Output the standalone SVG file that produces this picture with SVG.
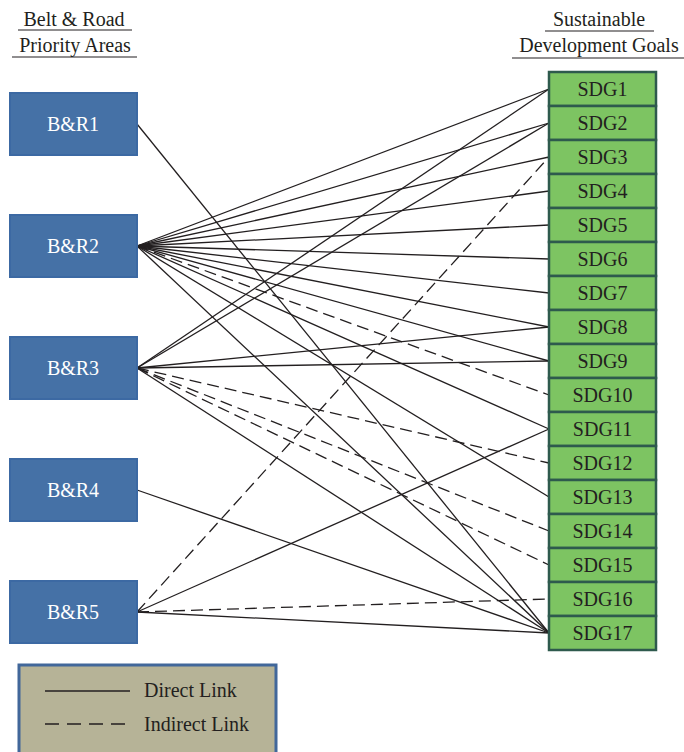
<svg xmlns="http://www.w3.org/2000/svg" width="684" height="752" viewBox="0 0 684 752">
<style>
text{font-family:"Liberation Serif","Times New Roman",serif;font-size:20px;fill:#231f20}
.br rect{fill:#4571a6;stroke:#3c69a3;stroke-width:2}
.br text{fill:#ffffff;text-anchor:middle}
.sdg rect{fill:#7dc462;stroke:#2e5a4d;stroke-width:2.5}
.sdg text{text-anchor:middle}
.hd{text-anchor:middle}
.ul{stroke:#231f20;stroke-width:1.2}
#connectors line{stroke:#231f20;stroke-width:1.3;fill:none}
#connectors line.ind{stroke-dasharray:12 6}
</style>
<rect width="684" height="752" fill="#ffffff"/>
<g id="header-left">
<text class="hd" x="74" y="26">Belt &amp; Road</text>
<line class="ul" x1="18" y1="30" x2="132" y2="30"/>
<text class="hd" x="75" y="52">Priority Areas</text>
<line class="ul" x1="12" y1="57" x2="137" y2="57"/>
</g>
<g id="header-right">
<text class="hd" x="599" y="26">Sustainable</text>
<line class="ul" x1="545" y1="31" x2="654" y2="31"/>
<text class="hd" x="599" y="52">Development Goals</text>
<line class="ul" x1="512" y1="58" x2="684" y2="58"/>
</g>
<g id="connectors">
<line x1="137" y1="124" x2="549" y2="633"/>
<line x1="137" y1="246" x2="549" y2="89"/>
<line x1="137" y1="246" x2="549" y2="123"/>
<line x1="137" y1="246" x2="549" y2="157"/>
<line x1="137" y1="246" x2="549" y2="191"/>
<line x1="137" y1="246" x2="549" y2="225"/>
<line x1="137" y1="246" x2="549" y2="259"/>
<line x1="137" y1="246" x2="549" y2="293"/>
<line x1="137" y1="246" x2="549" y2="327"/>
<line x1="137" y1="246" x2="549" y2="361"/>
<line class="ind" x1="137" y1="246" x2="549" y2="395"/>
<line x1="137" y1="246" x2="549" y2="429"/>
<line x1="137" y1="246" x2="549" y2="497"/>
<line x1="137" y1="246" x2="549" y2="633"/>
<line x1="137" y1="368" x2="549" y2="89"/>
<line x1="137" y1="368" x2="549" y2="123"/>
<line x1="137" y1="368" x2="549" y2="327"/>
<line x1="137" y1="368" x2="549" y2="361"/>
<line class="ind" x1="137" y1="368" x2="549" y2="463"/>
<line class="ind" x1="137" y1="368" x2="549" y2="531"/>
<line class="ind" x1="137" y1="368" x2="549" y2="565"/>
<line x1="137" y1="368" x2="549" y2="633"/>
<line x1="137" y1="490" x2="549" y2="633"/>
<line class="ind" x1="137" y1="612" x2="549" y2="157"/>
<line x1="137" y1="612" x2="549" y2="429"/>
<line class="ind" x1="137" y1="612" x2="549" y2="599"/>
<line x1="137" y1="612" x2="549" y2="633"/>
</g>
<g id="br1" class="br"><rect x="10" y="93" width="127" height="62"/><text x="73" y="131">B&amp;R1</text></g>
<g id="br2" class="br"><rect x="10" y="215" width="127" height="62"/><text x="73" y="253">B&amp;R2</text></g>
<g id="br3" class="br"><rect x="10" y="337" width="127" height="62"/><text x="73" y="375">B&amp;R3</text></g>
<g id="br4" class="br"><rect x="10" y="459" width="127" height="62"/><text x="73" y="497">B&amp;R4</text></g>
<g id="br5" class="br"><rect x="10" y="581" width="127" height="62"/><text x="73" y="619">B&amp;R5</text></g>
<g id="sdg1" class="sdg"><rect x="549" y="72" width="107" height="34"/><text x="602.5" y="96">SDG1</text></g>
<g id="sdg2" class="sdg"><rect x="549" y="106" width="107" height="34"/><text x="602.5" y="130">SDG2</text></g>
<g id="sdg3" class="sdg"><rect x="549" y="140" width="107" height="34"/><text x="602.5" y="164">SDG3</text></g>
<g id="sdg4" class="sdg"><rect x="549" y="174" width="107" height="34"/><text x="602.5" y="198">SDG4</text></g>
<g id="sdg5" class="sdg"><rect x="549" y="208" width="107" height="34"/><text x="602.5" y="232">SDG5</text></g>
<g id="sdg6" class="sdg"><rect x="549" y="242" width="107" height="34"/><text x="602.5" y="266">SDG6</text></g>
<g id="sdg7" class="sdg"><rect x="549" y="276" width="107" height="34"/><text x="602.5" y="300">SDG7</text></g>
<g id="sdg8" class="sdg"><rect x="549" y="310" width="107" height="34"/><text x="602.5" y="334">SDG8</text></g>
<g id="sdg9" class="sdg"><rect x="549" y="344" width="107" height="34"/><text x="602.5" y="368">SDG9</text></g>
<g id="sdg10" class="sdg"><rect x="549" y="378" width="107" height="34"/><text x="602.5" y="402">SDG10</text></g>
<g id="sdg11" class="sdg"><rect x="549" y="412" width="107" height="34"/><text x="602.5" y="436">SDG11</text></g>
<g id="sdg12" class="sdg"><rect x="549" y="446" width="107" height="34"/><text x="602.5" y="470">SDG12</text></g>
<g id="sdg13" class="sdg"><rect x="549" y="480" width="107" height="34"/><text x="602.5" y="504">SDG13</text></g>
<g id="sdg14" class="sdg"><rect x="549" y="514" width="107" height="34"/><text x="602.5" y="538">SDG14</text></g>
<g id="sdg15" class="sdg"><rect x="549" y="548" width="107" height="34"/><text x="602.5" y="572">SDG15</text></g>
<g id="sdg16" class="sdg"><rect x="549" y="582" width="107" height="34"/><text x="602.5" y="606">SDG16</text></g>
<g id="sdg17" class="sdg"><rect x="549" y="616" width="107" height="34"/><text x="602.5" y="640">SDG17</text></g>
<g id="legend">
<rect x="19" y="665" width="257" height="100" fill="#b6b397" stroke="#41679a" stroke-width="3"/>
<line x1="45" y1="691" x2="130" y2="691" stroke="#231f20" stroke-width="1.3"/>
<line x1="45" y1="724" x2="130" y2="724" stroke="#231f20" stroke-width="1.3" stroke-dasharray="14 8"/>
<text x="144" y="697">Direct Link</text>
<text x="144" y="731">Indirect Link</text>
</g>
</svg>
